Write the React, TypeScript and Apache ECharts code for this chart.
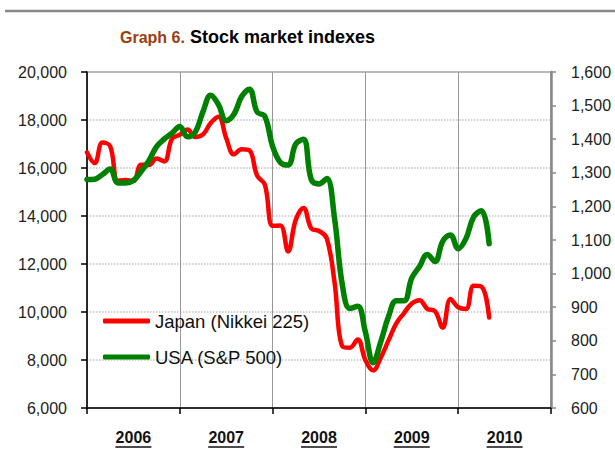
import React, { useEffect, useRef } from "react";
import * as echarts from "echarts";

const years = ["2006", "2007", "2008", "2009", "2010"];
// Monthly values, Jan 2006 .. May 2010
const nikkei = [
  16649, 16205, 17059, 16906, 15467, 15505, 15456, 16140, 16127, 16399, 16274, 17225,
  17383, 17604, 17287, 17400, 17875, 18138, 17248, 16569, 16785, 16737, 15680, 15307,
  13592, 13603, 12525, 13849, 14338, 13481, 13376, 13072, 11259, 8576, 8512, 8859,
  7994, 7568, 8109, 8828, 9522, 9958, 10356, 10492, 10133, 10034, 9345, 10546,
  10198, 10126, 11089, 11057, 9769,
];
const sp500 = [
  1280, 1281, 1295, 1311, 1270, 1270, 1277, 1304, 1336, 1378, 1401, 1418,
  1438, 1407, 1421, 1482, 1531, 1503, 1455, 1474, 1527, 1549, 1481, 1468,
  1379, 1331, 1323, 1386, 1400, 1280, 1267, 1283, 1166, 969, 896, 903,
  826, 735, 798, 873, 919, 919, 987, 1021, 1057, 1036, 1096, 1115,
  1074, 1104, 1169, 1187, 1089,
];
const leftTicks = { min: 6000, max: 20000, interval: 2000 };
const rightTicks = { min: 600, max: 1600, interval: 100 };

const FONT = "'Liberation Sans', Arial, sans-serif";
const fmt = (v: number) => v.toLocaleString("en-US");

export default function App() {
  const ref = useRef<HTMLDivElement>(null);
  useEffect(() => {
    if (!ref.current) return;
    const chart = echarts.init(ref.current, undefined, { renderer: "svg" });
    const monthsSpan = years.length * 12;
    chart.setOption({
      animation: false,
      backgroundColor: "#ffffff",
      title: {
        text: "{a|Graph 6.} {b|Stock market indexes}",
        left: 115,
        top: 23,
        textStyle: {
          rich: {
            a: { fontFamily: FONT, fontSize: 16, fontWeight: "bold", color: "#9c3d0f" },
            b: { fontFamily: FONT, fontSize: 18, fontWeight: "bold", color: "#000" },
          },
        },
      },
      grid: {
        left: 87,
        right: 64,
        top: 72,
        bottom: 55,
        show: true,
        borderColor: "#999",
        borderWidth: 1.5,
      },
      legend: {
        orient: "vertical",
        left: 103,
        top: 311,
        padding: 0,
        itemWidth: 47,
        itemHeight: 5,
        itemGap: 16,
        icon: "roundRect",
        textStyle: { fontFamily: FONT, fontSize: 18.5, color: "#111", lineHeight: 20 },
        data: ["Japan (Nikkei 225)", "USA (S&P 500)"],
      },
      xAxis: [
        {
          type: "value",
          min: 0,
          max: monthsSpan,
          interval: 12,
          position: "bottom",
          axisLine: { show: true, lineStyle: { color: "#000", width: 1.5 } },
          axisTick: { show: true, inside: false, length: 6, lineStyle: { color: "#000", width: 1.5 } },
          axisLabel: { show: false },
          splitLine: { show: true, lineStyle: { color: "#999", width: 1, type: "solid" } },
        },
        {
          type: "category",
          data: years,
          position: "bottom",
          boundaryGap: true,
          axisLine: { show: false },
          axisTick: { show: false },
          splitLine: { show: false },
          axisLabel: {
            margin: 21,
            fontFamily: FONT,
            fontSize: 16,
            fontWeight: "bold",
            color: "#111",
          },
        },
      ],
      yAxis: [
        {
          type: "value",
          position: "left",
          ...leftTicks,
          axisLine: { show: true, lineStyle: { color: "#000", width: 1.5 } },
          axisTick: { show: true, inside: false, length: 6, lineStyle: { color: "#000", width: 1.5 } },
          axisLabel: { margin: 20, fontFamily: FONT, fontSize: 16, color: "#222", formatter: fmt },
          splitLine: { show: true, lineStyle: { color: "#c4c4c4", width: 1.5, type: "dotted" } },
        },
        {
          type: "value",
          position: "right",
          ...rightTicks,
          axisLine: { show: true, lineStyle: { color: "#888", width: 2.5 } },
          axisTick: { show: true, inside: false, length: 5, lineStyle: { color: "#888", width: 1.5 } },
          axisLabel: { margin: 20, fontFamily: FONT, fontSize: 16, color: "#222", formatter: fmt },
          splitLine: { show: false },
        },
      ],
      series: [
        {
          name: "Japan (Nikkei 225)",
          type: "line",
          xAxisIndex: 0,
          yAxisIndex: 0,
          smooth: 0.4,
          symbol: "none",
          color: "#ff0000",
          lineStyle: { color: "#ff0000", width: 4.5, cap: "round", join: "round" },
          data: nikkei.map((v, i) => [i, v]),
          z: 3,
        },
        {
          name: "USA (S&P 500)",
          type: "line",
          xAxisIndex: 0,
          yAxisIndex: 1,
          smooth: 0.4,
          symbol: "none",
          color: "#008000",
          lineStyle: { color: "#008000", width: 5.5, cap: "round", join: "round" },
          data: sp500.map((v, i) => [i, v]),
          z: 4,
        },
      ],
    });

    const underlines = years.map((y) => {
      const px = chart.convertToPixel({ xAxisIndex: 1 }, y) as number;
      return {
        type: "line",
        shape: { x1: px - 18, y1: 447, x2: px + 18, y2: 447 },
        style: { stroke: "#111", lineWidth: 1.5 },
        silent: true,
      };
    });
    chart.setOption({
      graphic: [
        {
          type: "line",
          shape: { x1: 5, y1: 11, x2: 615, y2: 11 },
          style: { stroke: "#888", lineWidth: 2.5 },
          silent: true,
        },
        ...underlines,
      ],
    });

    return () => chart.dispose();
  }, []);
  return (
    <div
      ref={ref}
      style={{ position: "fixed", left: 0, top: 0, width: 615, height: 463 }}
    />
  );
}
